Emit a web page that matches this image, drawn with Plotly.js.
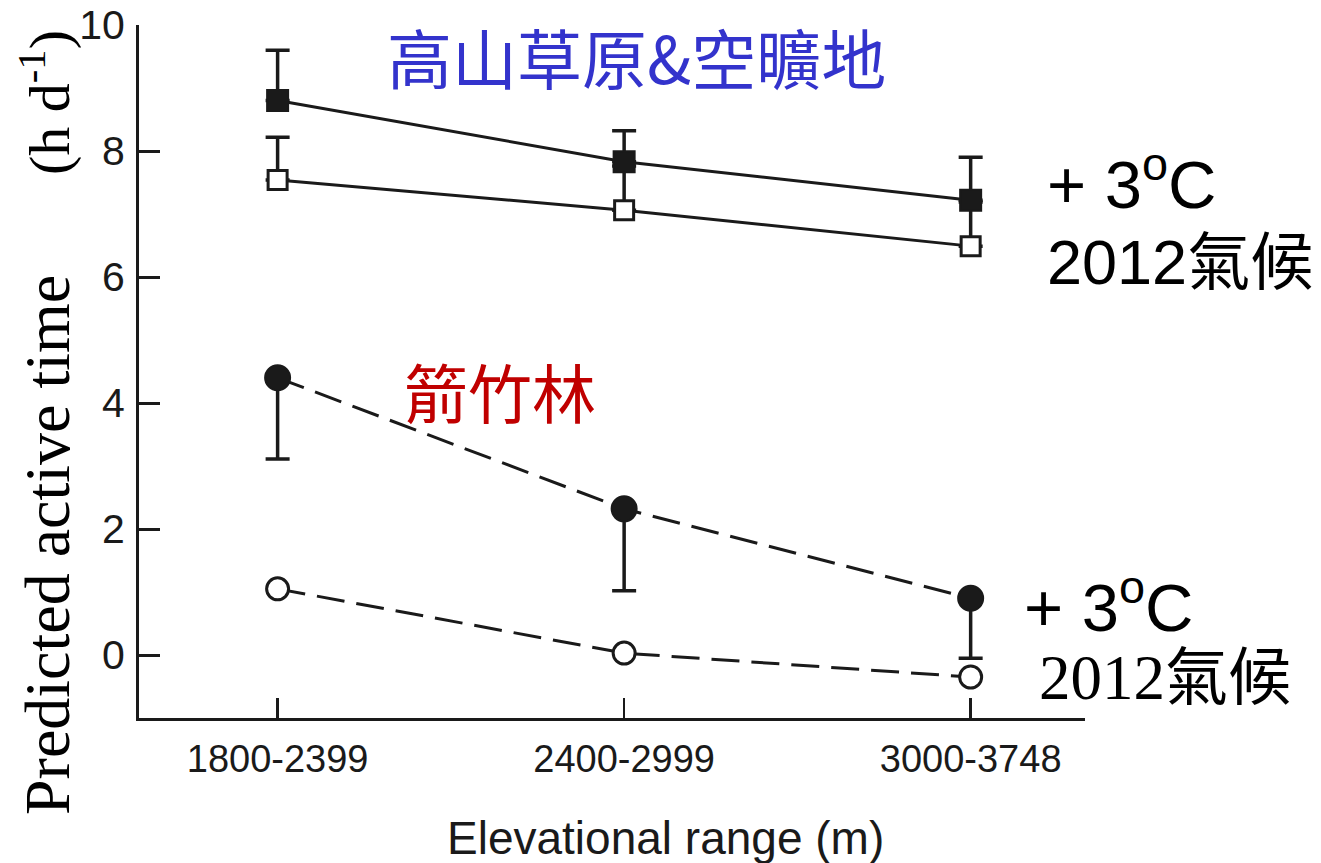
<!DOCTYPE html>
<html>
<head>
<meta charset="utf-8">
<script src="https://cdn.plot.ly/plotly-3.0.1.min.js"></script>
<style>html,body{margin:0;padding:0;background:#fff;}</style>
</head>
<body>
<div id="chart" style="width:1321px;height:863px;"></div>
<script>
// ---- data ----
const categories = ['1800-2399', '2400-2999', '3000-3748'];
const grassWarm = [8.80, 7.83, 7.22];
const grassWarmErrPlus = [0.80, 0.49, 0.68];
const grass2012 = [7.54, 7.06, 6.49];
const grass2012ErrPlus = [0.68, 0.70, 0.70];
const bambooWarm = [4.40, 2.32, 0.90];
const bambooWarmErrMinus = [1.29, 1.30, 0.95];
const bamboo2012 = [1.05, 0.03, -0.35];
const zeros = [0, 0, 0];
const yTicks = [0, 2, 4, 6, 8, 10];

const W = 1321, H = 863;
const M = {l: 139, r: 236, t: 25, b: 145};
const pw = W - M.l - M.r, ph = H - M.t - M.b;
const px = x => (x - M.l) / pw;
const py = y => (H - M.b - y) / ph;

const sans = 'Liberation Sans, Arial, sans-serif';
const serif = 'Liberation Serif, Times New Roman, serif';
const cjk = 'Noto Sans CJK TC';
const ink = '#1a1a1a';

const traces = [
  {
    x: categories, y: grass2012, type: 'scatter', mode: 'lines+markers',
    line: {color: ink, width: 3},
    marker: {symbol: 'square', size: 19, color: '#ffffff', line: {color: ink, width: 3}},
    error_y: {type: 'data', symmetric: false, array: grass2012ErrPlus, arrayminus: zeros,
              color: ink, thickness: 3.5, width: 12},
    cliponaxis: false, hoverinfo: 'skip'
  },
  {
    x: categories, y: grassWarm, type: 'scatter', mode: 'lines+markers',
    line: {color: ink, width: 3},
    marker: {symbol: 'square', size: 21, color: ink, line: {color: ink, width: 2}},
    error_y: {type: 'data', symmetric: false, array: grassWarmErrPlus, arrayminus: zeros,
              color: ink, thickness: 3.5, width: 12},
    cliponaxis: false, hoverinfo: 'skip'
  },
  {
    x: categories, y: bamboo2012, type: 'scatter', mode: 'lines+markers',
    line: {color: ink, width: 3, dash: '28px,12px'},
    marker: {symbol: 'circle', size: 22, color: '#ffffff', line: {color: ink, width: 3}},
    cliponaxis: false, hoverinfo: 'skip'
  },
  {
    x: categories, y: bambooWarm, type: 'scatter', mode: 'lines+markers',
    line: {color: ink, width: 3, dash: '28px,12px'},
    marker: {symbol: 'circle', size: 25, color: ink, line: {color: ink, width: 2}},
    error_y: {type: 'data', symmetric: false, array: zeros, arrayminus: bambooWarmErrMinus,
              color: ink, thickness: 3.5, width: 12},
    cliponaxis: false, hoverinfo: 'skip'
  }
];

const annotations = [
  {text: '高山草原&空曠地', x: px(636), y: py(56), font: {family: cjk, size: 65, color: '#3333cc'}},
  {text: '箭竹林', x: px(500), y: py(390), font: {family: cjk, size: 64, color: '#c00000'}},
  {text: '+ 3<sup>o</sup>C', x: px(1045), y: py(180), xanchor: 'left', font: {family: sans, size: 67, color: '#000'}},
  {text: '2012氣候', x: px(1045), y: py(262), xanchor: 'left', font: {family: sans + ', ' + cjk, size: 63, color: '#000'}},
  {text: '+ 3<sup>o</sup>C', x: px(1022), y: py(603), xanchor: 'left', font: {family: sans, size: 67, color: '#000'}},
  {text: '2012氣候', x: px(1037), y: py(678), xanchor: 'left', font: {family: serif + ', ' + cjk, size: 63, color: '#000'}},
  {text: 'Predicted active time', x: px(47), y: py(545), textangle: -90, font: {family: serif, size: 64, color: '#000'}},
  {text: '(h d<sup>-1</sup>)', x: px(46), y: py(103), textangle: -90, font: {family: serif, size: 58, color: '#000'}},
  {text: 'Elevational range (m)', x: px(665), y: py(838), font: {family: sans, size: 46, color: ink}}
].map(a => Object.assign({xref: 'paper', yref: 'paper', showarrow: false, xanchor: 'center', yanchor: 'middle'}, a));

const layout = {
  width: W, height: H,
  margin: M,
  paper_bgcolor: '#ffffff', plot_bgcolor: '#ffffff',
  showlegend: false,
  xaxis: {
    type: 'category', range: [-0.4, 2.33],
    showline: true, linecolor: ink, linewidth: 3,
    ticks: 'inside', ticklen: 20, tickwidth: 2.5, tickcolor: ink,
    showgrid: false, zeroline: false,
    tickfont: {family: sans, size: 38, color: ink},
    ticklabelstandoff: 5
  },
  yaxis: {
    range: [-1, 10], tickvals: yTicks,
    showline: true, linecolor: ink, linewidth: 3,
    ticks: 'inside', ticklen: 21, tickwidth: 3, tickcolor: ink,
    showgrid: false, zeroline: false,
    tickfont: {family: sans, size: 41, color: ink},
    ticklabelstandoff: 3
  },
  annotations: annotations
};

Plotly.newPlot('chart', traces, layout, {staticPlot: true, displayModeBar: false});
</script>
</body>
</html>
